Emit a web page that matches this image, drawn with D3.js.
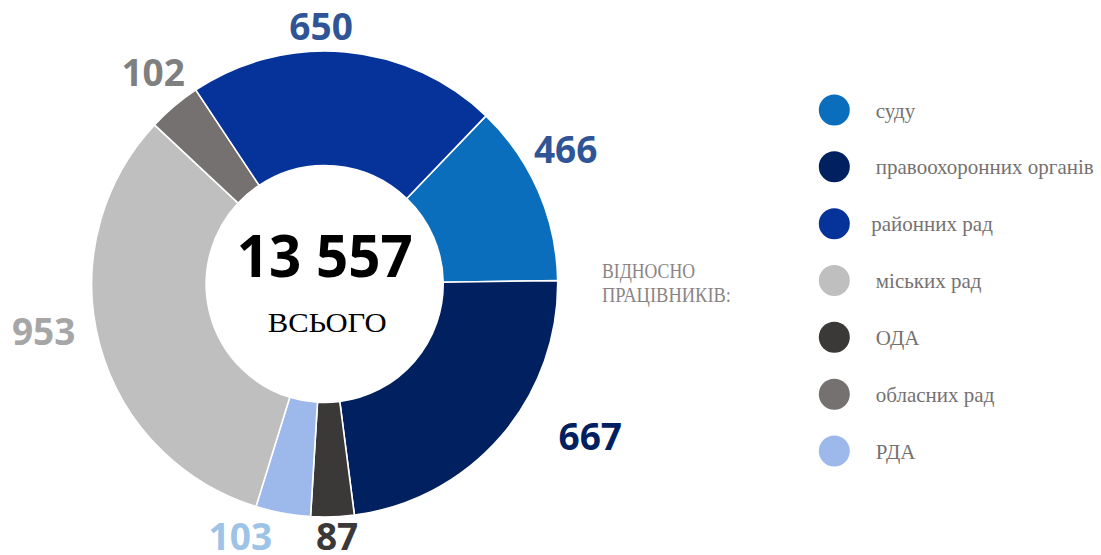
<!DOCTYPE html>
<html>
<head>
<meta charset="utf-8">
<script src="https://cdn.jsdelivr.net/npm/d3@7"></script>
<style>
  html, body { margin: 0; padding: 0; background: #fff; }
  svg { display: block; }
</style>
</head>
<body>
<svg id="chart" width="1101" height="555"></svg>
<script>
// ---- data (legend order) ----
const categories = ['суду', 'правоохоронних органів', 'районних рад', 'міських рад', 'ОДА', 'обласних рад', 'РДА'];
const counts = [466, 667, 650, 953, 87, 102, 103];          // numbers shown at the slices
const shares = [12.6, 23.2, 21.5, 32.2, 3.0, 3.7, 3.8];     // slice sizes, %
const pieOrder = ['суду', 'правоохоронних органів', 'ОДА', 'РДА', 'міських рад', 'обласних рад', 'районних рад'];
const totalLabel = '13 557';
const totalCaption = 'ВСЬОГО';
const sideNote = ['ВІДНОСНО', 'ПРАЦІВНИКІВ:'];

// ---- styles ----
const sliceColors = {
  'суду': '#0A6EBD', 'правоохоронних органів': '#002060', 'районних рад': '#053399',
  'міських рад': '#BFBFBF', 'ОДА': '#3B3838', 'обласних рад': '#767171', 'РДА': '#9DB9EC'
};
const labelColors = {
  'суду': '#2F5597', 'правоохоронних органів': '#002060', 'районних рад': '#2F5597',
  'міських рад': '#A6A6A6', 'ОДА': '#3B3838', 'обласних рад': '#7F7F7F', 'РДА': '#9DC3E6'
};
// label placement (polar: angle in degrees clockwise from top, radius in px)
const labelPolar = {
  'суду': [60.8, 276], 'правоохоронних органів': [119.8, 306], 'районних рад': [-0.8, 258],
  'міських рад': [260.4, 285], 'ОДА': [177.2, 253], 'обласних рад': [320.9, 272], 'РДА': [198.5, 266]
};

const svg = d3.select('#chart');
const cx = 324.7, cy = 284, R = 233, r0 = 118.5;
const rows = categories.map((c, i) => ({ cat: c, count: counts[i], share: shares[i] }));
const byCat = new Map(rows.map(d => [d.cat, d]));
const ordered = pieOrder.map(c => byCat.get(c));

const startDeg = 43.8;
const pie = d3.pie().sort(null).value(d => d.share)
  .startAngle(startDeg * Math.PI / 180)
  .endAngle((startDeg + 360) * Math.PI / 180);
const arc = d3.arc().innerRadius(r0).outerRadius(R);

const g = svg.append('g').attr('transform', `translate(${cx},${cy})`);
g.selectAll('path.slice').data(pie(ordered)).join('path')
  .attr('class', 'slice')
  .attr('d', arc)
  .attr('fill', d => sliceColors[d.data.cat])
  .attr('stroke', '#fff')
  .attr('stroke-width', 1.6)
  .attr('stroke-linejoin', 'round');

// value labels
g.selectAll('text.val').data(ordered).join('text')
  .attr('class', 'val')
  .attr('x', d => { const [a, rr] = labelPolar[d.cat]; return rr * Math.sin(a * Math.PI / 180); })
  .attr('y', d => { const [a, rr] = labelPolar[d.cat]; return -rr * Math.cos(a * Math.PI / 180) + 13.5; })
  .attr('text-anchor', 'middle')
  .attr('font-family', '"Open Sans", sans-serif')
  .attr('font-weight', 700)
  .attr('font-size', 37)
  .attr('fill', d => labelColors[d.cat])
  .text(d => d.count);

// center texts
g.append('text')
  .attr('x', 0).attr('y', -7)
  .attr('text-anchor', 'middle')
  .attr('font-family', '"Open Sans", sans-serif')
  .attr('font-weight', 700)
  .attr('font-size', 59)
  .attr('textLength', 176).attr('lengthAdjust', 'spacingAndGlyphs')
  .attr('fill', '#000')
  .text(totalLabel);
g.append('text')
  .attr('x', 2.5).attr('y', 48)
  .attr('text-anchor', 'middle')
  .attr('font-family', '"Liberation Serif", serif')
  .attr('font-size', 28)
  .attr('textLength', 119).attr('lengthAdjust', 'spacingAndGlyphs')
  .attr('fill', '#000')
  .text(totalCaption);

// side note
const note = svg.append('text')
  .attr('font-family', '"Liberation Serif", serif')
  .attr('font-size', 20)
  .attr('fill', '#8A8585');
note.selectAll('tspan').data(sideNote).join('tspan')
  .attr('x', 602)
  .attr('y', (d, i) => 278 + i * 24)
  .attr('textLength', (d, i) => i === 0 ? 93 : 129)
  .attr('lengthAdjust', 'spacingAndGlyphs')
  .text(d => d);

// legend
const legY = d3.scalePoint().domain(categories).range([110, 451]);
const leg = svg.append('g').selectAll('g').data(categories).join('g')
  .attr('transform', d => `translate(834.3,${legY(d)})`);
leg.append('circle').attr('r', 15.5).attr('fill', d => sliceColors[d]);
leg.append('text')
  .attr('x', d => d === 'районних рад' ? 37 : 41.5)
  .attr('y', 7.5)
  .attr('font-family', '"Liberation Serif", serif')
  .attr('font-size', 21)
  .attr('fill', '#767171')
  .text(d => d);
</script>
</body>
</html>
